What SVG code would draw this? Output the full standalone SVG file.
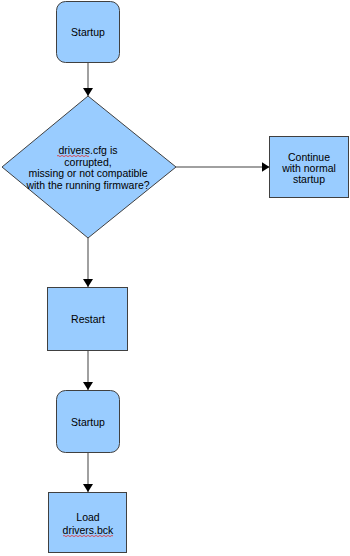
<svg xmlns="http://www.w3.org/2000/svg" width="350" height="556" viewBox="0 0 350 556">
<style>
.n{fill:#99ccff;stroke:#404040;stroke-width:1}
.t{font-family:"Liberation Sans",Arial,sans-serif;font-size:10.5px;fill:#000;text-anchor:middle}
.c{stroke:#808080;stroke-width:1.5;fill:none}
.sq{fill:none;stroke:#e03030;stroke-width:0.8}
</style>
<defs>
<marker id="ah" markerWidth="8" markerHeight="10" refX="8" refY="5" orient="auto" markerUnits="userSpaceOnUse" viewBox="0 0 8 10">
<path d="M0,0 L8,5 L0,10 Z" fill="#000"/>
</marker>
</defs>
<rect width="350" height="556" fill="#fff"/>
<g id="connectors">
<line class="c" x1="88" y1="63" x2="88" y2="96" marker-end="url(#ah)"/>
<line class="c" x1="176" y1="167" x2="269.5" y2="167" marker-end="url(#ah)"/>
<line class="c" x1="88" y1="238" x2="88" y2="287" marker-end="url(#ah)"/>
<line class="c" x1="88" y1="351" x2="88" y2="390" marker-end="url(#ah)"/>
<line class="c" x1="88" y1="453" x2="88" y2="492" marker-end="url(#ah)"/>
</g>
<g id="startup1">
<rect class="n" x="56.5" y="1.5" width="63" height="61" rx="9"/>
<text class="t" x="88" y="36">Startup</text>
</g>
<g id="decision">
<polygon class="n" points="88,96 176,167 88,238 2,167"/>
<text class="t" x="88" y="154">drivers.cfg is</text>
<text class="t" x="88" y="165.5">corrupted,</text>
<text class="t" x="88" y="177">missing or not compatible</text>
<text class="t" x="88" y="189">with the running firmware?</text>
<path class="sq" d="M57,156 q1,-1.2 2,0 t2,0 t2,0 t2,0 t2,0 t2,0 t2,0 t2,0 t2,0 t2,0 t2,0 t2,0 t2,0 t2,0 t2,0 t2,0"/>
</g>
<g id="continue">
<rect class="n" x="269.5" y="136.5" width="79" height="61"/>
<text class="t" x="309" y="160.5">Continue</text>
<text class="t" x="309" y="171.5">with normal</text>
<text class="t" x="309" y="182.5">startup</text>
</g>
<g id="restart">
<rect class="n" x="47.5" y="287.5" width="80" height="63"/>
<text class="t" x="88" y="323">Restart</text>
</g>
<g id="startup2">
<rect class="n" x="56.5" y="390.5" width="63" height="62" rx="9"/>
<text class="t" x="88" y="426">Startup</text>
</g>
<g id="load">
<rect class="n" x="48.5" y="492.5" width="78" height="60"/>
<text class="t" x="88" y="521">Load</text>
<text class="t" x="88" y="533.5">drivers.bck</text>
<path class="sq" d="M63,536 q1,-1.2 2,0 t2,0 t2,0 t2,0 t2,0 t2,0 t2,0 t2,0 t2,0 t2,0 t2,0 t2,0 t2,0 t2,0 t2,0 t2,0 t2,0 t2,0 t2,0 t2,0 t2,0 t2,0 t2,0 t2,0 t2,0"/>
</g>
</svg>
